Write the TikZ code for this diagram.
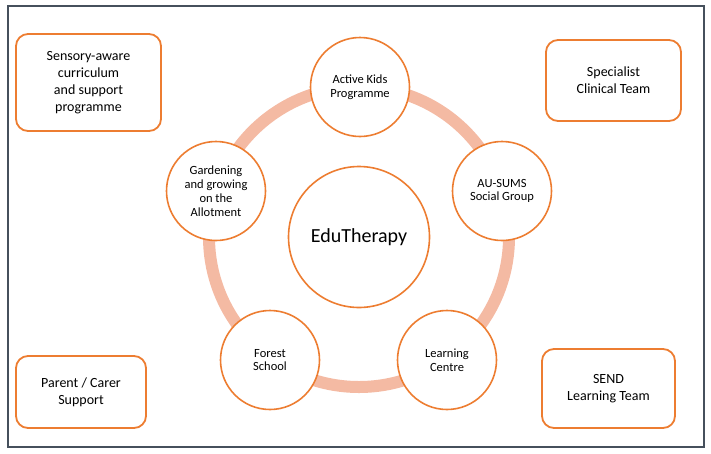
\documentclass[tikz,border=0pt]{standalone}
\usepackage{fontspec}
\setmainfont{Carlito}
\definecolor{edorange}{HTML}{ED7D31}
\definecolor{ring}{HTML}{F4BAA3}
\definecolor{frame}{HTML}{46505C}
\begin{document}
\begin{tikzpicture}[x=1pt,y=-1pt,
  sidebox/.style={draw=edorange,line width=1.8pt,fill=white,rounded corners=12pt,align=center,font=\fontsize{14}{17}\selectfont,inner sep=0pt},
  item/.style={circle,draw=edorange,line width=1.6pt,fill=white,minimum size=99pt,inner sep=0pt,align=center,font=\fontsize{12.5}{13.8}\selectfont},
  hub/.style={circle,draw=edorange,line width=1.6pt,fill=white,minimum size=141pt,inner sep=0pt,font=\fontsize{20}{24}\selectfont}]
\useasboundingbox (0,0) rectangle (711,453);
\draw[frame,line width=2pt] (8,6) rectangle (703.5,446.5);
\coordinate (c) at (359,237);
\draw[ring,line width=12pt] (c) circle[radius=150];
\node[hub] (hub) at (c) {EduTherapy};
\node[item] (active) at (360,87) {Active Kids\\Programme};
\node[item] (garden) at (216,191) {Gardening\\and growing\\on the\\Allotment};
\node[item] (ausums) at (502,191) {AU-SUMS\\Social Group};
\node[item] (learn) at (447,360) {Learning\\Centre};
\node[item] (forest) at (270,360) {Forest\\School};
\node[sidebox,minimum width=145pt,minimum height=97pt] (sens) at (88.5,82.5) {Sensory-aware\\curriculum\\and support\\programme};
\node[sidebox,minimum width=135pt,minimum height=81pt] (spec) at (613.5,80.5) {Specialist\\Clinical Team};
\node[sidebox,minimum width=130pt,minimum height=72pt] (parent) at (81,392) {Parent / Carer\\Support};
\node[sidebox,minimum width=133pt,minimum height=79pt] (send) at (608.5,388.5) {SEND\\Learning Team};
\end{tikzpicture}
\end{document}
